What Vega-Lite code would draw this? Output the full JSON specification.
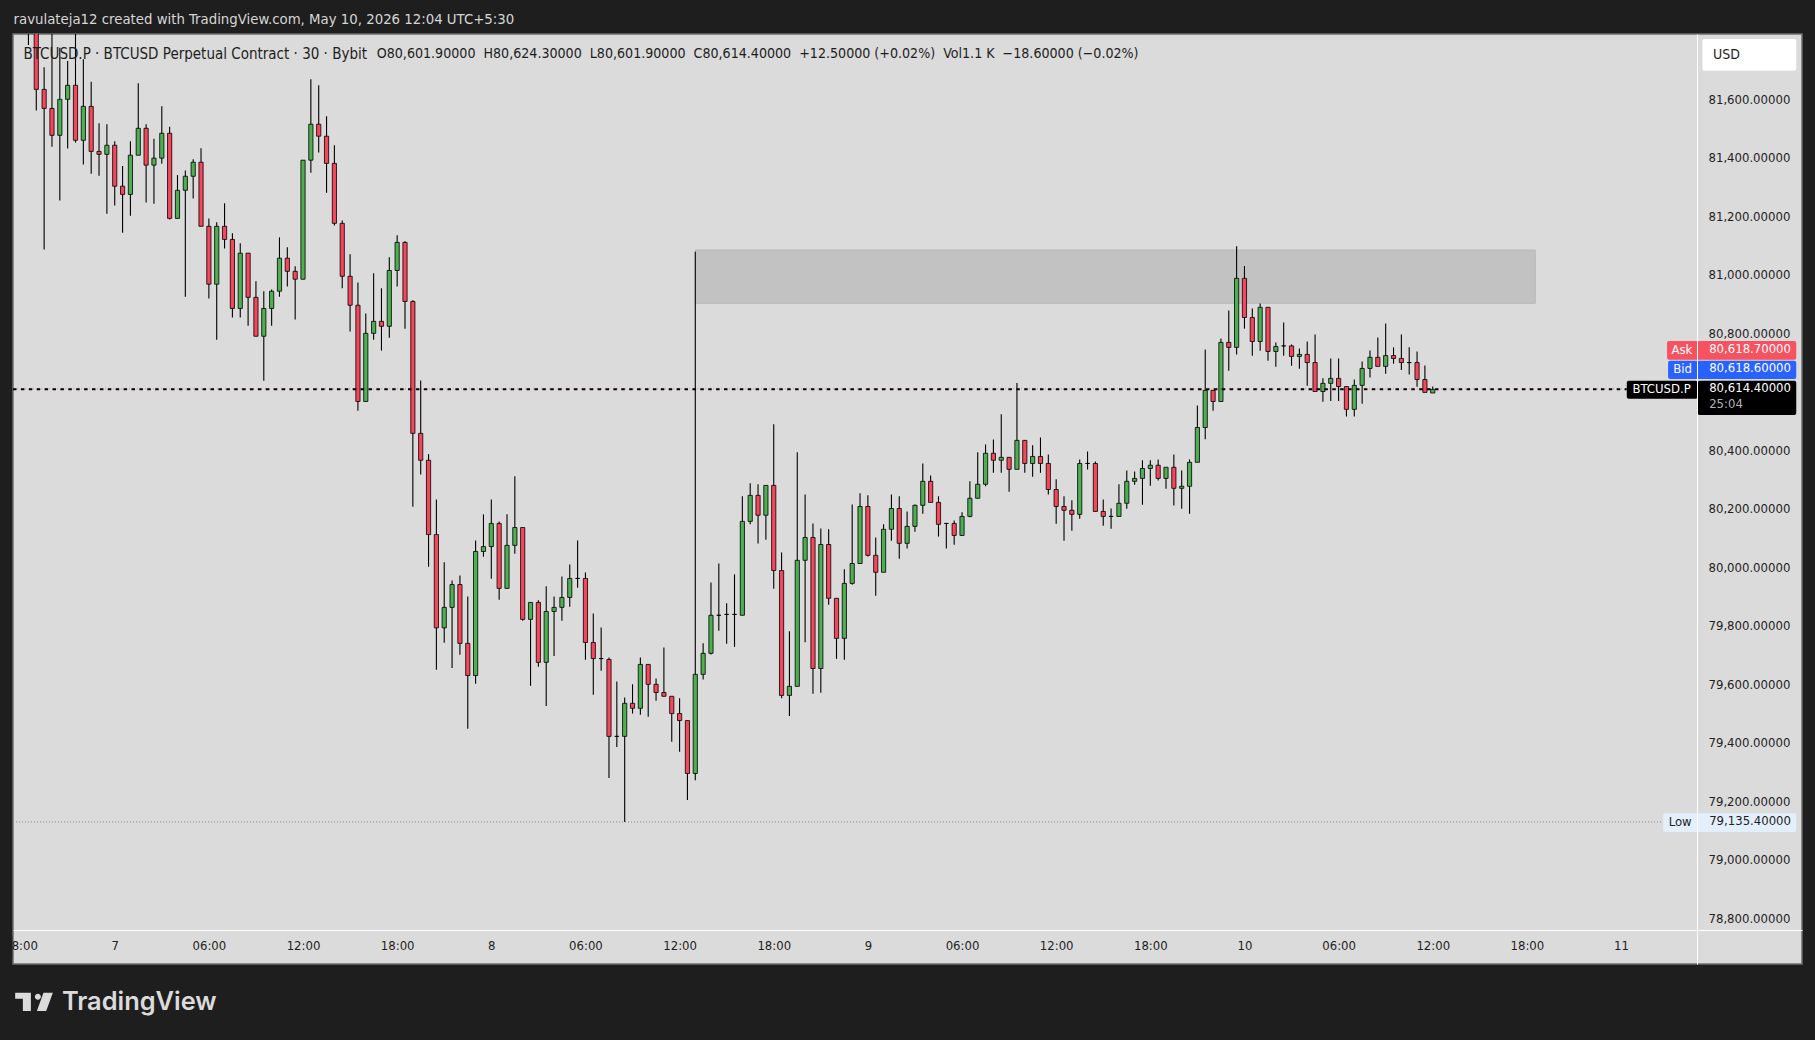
{
  "$schema": "https://vega.github.io/schema/vega-lite/v6.json",
  "width": 1789,
  "height": 930,
  "autosize": "none",
  "padding": {"left": 13, "top": 34, "right": 13, "bottom": 76},
  "background": "#1e1e1e",
  "config": {
    "view": {"fill": "#dbdbdb", "stroke": "#6e6e6e", "strokeWidth": 1.5},
    "text": {"font": "DejaVu Sans Condensed"}
  },
  "datasets": {
    "candles": [
      {"t":"2026-05-06T18:30Z","o":81880,"h":81950,"l":81792,"c":81840},
      {"t":"2026-05-06T19:00Z","o":81900,"h":81950,"l":81568,"c":81640},
      {"t":"2026-05-06T19:30Z","o":81640,"h":81716,"l":81093,"c":81575},
      {"t":"2026-05-06T20:00Z","o":81575,"h":81900,"l":81444,"c":81483},
      {"t":"2026-05-06T20:30Z","o":81483,"h":81782,"l":81260,"c":81606},
      {"t":"2026-05-06T21:00Z","o":81606,"h":81737,"l":81438,"c":81654},
      {"t":"2026-05-06T21:30Z","o":81654,"h":81900,"l":81458,"c":81466},
      {"t":"2026-05-06T22:00Z","o":81466,"h":81743,"l":81383,"c":81582},
      {"t":"2026-05-06T22:30Z","o":81582,"h":81666,"l":81352,"c":81428},
      {"t":"2026-05-06T23:00Z","o":81428,"h":81524,"l":81345,"c":81418},
      {"t":"2026-05-06T23:30Z","o":81418,"h":81521,"l":81215,"c":81449},
      {"t":"2026-05-07T00:00Z","o":81449,"h":81463,"l":81243,"c":81309},
      {"t":"2026-05-07T00:30Z","o":81309,"h":81378,"l":81150,"c":81281},
      {"t":"2026-05-07T01:00Z","o":81281,"h":81463,"l":81208,"c":81415},
      {"t":"2026-05-07T01:30Z","o":81415,"h":81661,"l":81415,"c":81507},
      {"t":"2026-05-07T02:00Z","o":81507,"h":81521,"l":81253,"c":81381},
      {"t":"2026-05-07T02:30Z","o":81381,"h":81471,"l":81249,"c":81405},
      {"t":"2026-05-07T03:00Z","o":81405,"h":81582,"l":81386,"c":81490},
      {"t":"2026-05-07T03:30Z","o":81490,"h":81512,"l":81195,"c":81199},
      {"t":"2026-05-07T04:00Z","o":81199,"h":81347,"l":81199,"c":81295},
      {"t":"2026-05-07T04:30Z","o":81295,"h":81363,"l":80931,"c":81343},
      {"t":"2026-05-07T05:00Z","o":81343,"h":81401,"l":81267,"c":81391},
      {"t":"2026-05-07T05:30Z","o":81391,"h":81439,"l":81172,"c":81172},
      {"t":"2026-05-07T06:00Z","o":81172,"h":81199,"l":80925,"c":80974},
      {"t":"2026-05-07T06:30Z","o":80974,"h":81186,"l":80784,"c":81172},
      {"t":"2026-05-07T07:00Z","o":81172,"h":81251,"l":81096,"c":81127},
      {"t":"2026-05-07T07:30Z","o":81127,"h":81148,"l":80860,"c":80891},
      {"t":"2026-05-07T08:00Z","o":80891,"h":81114,"l":80860,"c":81080},
      {"t":"2026-05-07T08:30Z","o":81080,"h":81080,"l":80832,"c":80929},
      {"t":"2026-05-07T09:00Z","o":80929,"h":80984,"l":80796,"c":80796},
      {"t":"2026-05-07T09:30Z","o":80796,"h":80950,"l":80644,"c":80891},
      {"t":"2026-05-07T10:00Z","o":80891,"h":80956,"l":80832,"c":80950},
      {"t":"2026-05-07T10:30Z","o":80950,"h":81134,"l":80931,"c":81063},
      {"t":"2026-05-07T11:00Z","o":81063,"h":81100,"l":80966,"c":81018},
      {"t":"2026-05-07T11:30Z","o":81018,"h":81035,"l":80853,"c":80991},
      {"t":"2026-05-07T12:00Z","o":80991,"h":81398,"l":80991,"c":81398},
      {"t":"2026-05-07T12:30Z","o":81398,"h":81675,"l":81355,"c":81521},
      {"t":"2026-05-07T13:00Z","o":81521,"h":81654,"l":81424,"c":81480},
      {"t":"2026-05-07T13:30Z","o":81480,"h":81548,"l":81287,"c":81387},
      {"t":"2026-05-07T14:00Z","o":81387,"h":81449,"l":81175,"c":81182},
      {"t":"2026-05-07T14:30Z","o":81182,"h":81192,"l":80960,"c":81001},
      {"t":"2026-05-07T15:00Z","o":81001,"h":81076,"l":80812,"c":80902},
      {"t":"2026-05-07T15:30Z","o":80902,"h":80980,"l":80541,"c":80573},
      {"t":"2026-05-07T16:00Z","o":80573,"h":80874,"l":80573,"c":80806},
      {"t":"2026-05-07T16:30Z","o":80806,"h":81011,"l":80784,"c":80847},
      {"t":"2026-05-07T17:00Z","o":80847,"h":80960,"l":80747,"c":80830},
      {"t":"2026-05-07T17:30Z","o":80830,"h":81066,"l":80791,"c":81021},
      {"t":"2026-05-07T18:00Z","o":81021,"h":81141,"l":80966,"c":81117},
      {"t":"2026-05-07T18:30Z","o":81117,"h":81121,"l":80822,"c":80915},
      {"t":"2026-05-07T19:00Z","o":80915,"h":80919,"l":80213,"c":80464},
      {"t":"2026-05-07T19:30Z","o":80464,"h":80645,"l":80323,"c":80372},
      {"t":"2026-05-07T20:00Z","o":80372,"h":80393,"l":80008,"c":80118},
      {"t":"2026-05-07T20:30Z","o":80118,"h":80238,"l":79656,"c":79799},
      {"t":"2026-05-07T21:00Z","o":79799,"h":80023,"l":79748,"c":79869},
      {"t":"2026-05-07T21:30Z","o":79869,"h":79961,"l":79662,"c":79947},
      {"t":"2026-05-07T22:00Z","o":79947,"h":79978,"l":79707,"c":79746},
      {"t":"2026-05-07T22:30Z","o":79746,"h":79906,"l":79454,"c":79636},
      {"t":"2026-05-07T23:00Z","o":79636,"h":80098,"l":79608,"c":80060},
      {"t":"2026-05-07T23:30Z","o":80060,"h":80187,"l":80042,"c":80077},
      {"t":"2026-05-08T00:00Z","o":80077,"h":80238,"l":79967,"c":80156},
      {"t":"2026-05-08T00:30Z","o":80156,"h":80163,"l":79895,"c":79934},
      {"t":"2026-05-08T01:00Z","o":79934,"h":80187,"l":79934,"c":80081},
      {"t":"2026-05-08T01:30Z","o":80081,"h":80317,"l":80052,"c":80142},
      {"t":"2026-05-08T02:00Z","o":80142,"h":80142,"l":79823,"c":79828},
      {"t":"2026-05-08T02:30Z","o":79828,"h":79886,"l":79601,"c":79886},
      {"t":"2026-05-08T03:00Z","o":79886,"h":79893,"l":79666,"c":79681},
      {"t":"2026-05-08T03:30Z","o":79681,"h":79941,"l":79532,"c":79855},
      {"t":"2026-05-08T04:00Z","o":79855,"h":79906,"l":79703,"c":79869},
      {"t":"2026-05-08T04:30Z","o":79869,"h":79975,"l":79823,"c":79903},
      {"t":"2026-05-08T05:00Z","o":79903,"h":80016,"l":79871,"c":79968},
      {"t":"2026-05-08T05:30Z","o":79968,"h":80098,"l":79936,"c":79968},
      {"t":"2026-05-08T06:00Z","o":79968,"h":79988,"l":79690,"c":79749},
      {"t":"2026-05-08T06:30Z","o":79749,"h":79848,"l":79570,"c":79694},
      {"t":"2026-05-08T07:00Z","o":79694,"h":79800,"l":79652,"c":79694},
      {"t":"2026-05-08T07:30Z","o":79691,"h":79698,"l":79286,"c":79428},
      {"t":"2026-05-08T08:00Z","o":79428,"h":79616,"l":79392,"c":79428},
      {"t":"2026-05-08T08:30Z","o":79428,"h":79561,"l":79135.4,"c":79541},
      {"t":"2026-05-08T09:00Z","o":79541,"h":79606,"l":79506,"c":79524},
      {"t":"2026-05-08T09:30Z","o":79524,"h":79698,"l":79502,"c":79674},
      {"t":"2026-05-08T10:00Z","o":79674,"h":79674,"l":79495,"c":79606},
      {"t":"2026-05-08T10:30Z","o":79606,"h":79626,"l":79550,"c":79578},
      {"t":"2026-05-08T11:00Z","o":79578,"h":79732,"l":79565,"c":79565},
      {"t":"2026-05-08T11:30Z","o":79565,"h":79565,"l":79410,"c":79506},
      {"t":"2026-05-08T12:00Z","o":79506,"h":79558,"l":79375,"c":79482},
      {"t":"2026-05-08T12:30Z","o":79482,"h":79482,"l":79210,"c":79301},
      {"t":"2026-05-08T13:00Z","o":79301,"h":81085,"l":79278,"c":79640},
      {"t":"2026-05-08T13:30Z","o":79640,"h":79746,"l":79622,"c":79712},
      {"t":"2026-05-08T14:00Z","o":79712,"h":79954,"l":79708,"c":79842},
      {"t":"2026-05-08T14:30Z","o":79842,"h":80019,"l":79789,"c":79842},
      {"t":"2026-05-08T15:00Z","o":79845,"h":79883,"l":79745,"c":79845},
      {"t":"2026-05-08T15:30Z","o":79845,"h":79982,"l":79734,"c":79845},
      {"t":"2026-05-08T16:00Z","o":79842,"h":80249,"l":79842,"c":80163},
      {"t":"2026-05-08T16:30Z","o":80163,"h":80293,"l":80153,"c":80252},
      {"t":"2026-05-08T17:00Z","o":80252,"h":80290,"l":80087,"c":80184},
      {"t":"2026-05-08T17:30Z","o":80184,"h":80286,"l":80100,"c":80286},
      {"t":"2026-05-08T18:00Z","o":80286,"h":80495,"l":79933,"c":79995},
      {"t":"2026-05-08T18:30Z","o":79995,"h":80057,"l":79558,"c":79568},
      {"t":"2026-05-08T19:00Z","o":79568,"h":79787,"l":79498,"c":79599},
      {"t":"2026-05-08T19:30Z","o":79599,"h":80399,"l":79599,"c":80030},
      {"t":"2026-05-08T20:00Z","o":80030,"h":80255,"l":79750,"c":80108},
      {"t":"2026-05-08T20:30Z","o":80108,"h":80156,"l":79574,"c":79660},
      {"t":"2026-05-08T21:00Z","o":79660,"h":80139,"l":79577,"c":80084},
      {"t":"2026-05-08T21:30Z","o":80084,"h":80136,"l":79878,"c":79900},
      {"t":"2026-05-08T22:00Z","o":79900,"h":79900,"l":79693,"c":79763},
      {"t":"2026-05-08T22:30Z","o":79763,"h":79999,"l":79690,"c":79951},
      {"t":"2026-05-08T23:00Z","o":79951,"h":80221,"l":79946,"c":80019},
      {"t":"2026-05-08T23:30Z","o":80019,"h":80259,"l":80019,"c":80214},
      {"t":"2026-05-09T00:00Z","o":80214,"h":80252,"l":80043,"c":80047},
      {"t":"2026-05-09T00:30Z","o":80047,"h":80108,"l":79909,"c":79989},
      {"t":"2026-05-09T01:00Z","o":79989,"h":80153,"l":79989,"c":80136},
      {"t":"2026-05-09T01:30Z","o":80136,"h":80255,"l":80097,"c":80207},
      {"t":"2026-05-09T02:00Z","o":80207,"h":80249,"l":80035,"c":80088},
      {"t":"2026-05-09T02:30Z","o":80088,"h":80197,"l":80070,"c":80146},
      {"t":"2026-05-09T03:00Z","o":80146,"h":80221,"l":80128,"c":80218},
      {"t":"2026-05-09T03:30Z","o":80218,"h":80361,"l":80189,"c":80300},
      {"t":"2026-05-09T04:00Z","o":80300,"h":80320,"l":80228,"c":80228},
      {"t":"2026-05-09T04:30Z","o":80228,"h":80249,"l":80111,"c":80153},
      {"t":"2026-05-09T05:00Z","o":80156,"h":80156,"l":80070,"c":80156},
      {"t":"2026-05-09T05:30Z","o":80156,"h":80166,"l":80083,"c":80115},
      {"t":"2026-05-09T06:00Z","o":80115,"h":80194,"l":80115,"c":80180},
      {"t":"2026-05-09T06:30Z","o":80180,"h":80300,"l":80177,"c":80242},
      {"t":"2026-05-09T07:00Z","o":80242,"h":80399,"l":80242,"c":80290},
      {"t":"2026-05-09T07:30Z","o":80290,"h":80426,"l":80283,"c":80396},
      {"t":"2026-05-09T08:00Z","o":80396,"h":80443,"l":80329,"c":80372},
      {"t":"2026-05-09T08:30Z","o":80372,"h":80529,"l":80329,"c":80382},
      {"t":"2026-05-09T09:00Z","o":80382,"h":80382,"l":80264,"c":80341},
      {"t":"2026-05-09T09:30Z","o":80341,"h":80636,"l":80341,"c":80440},
      {"t":"2026-05-09T10:00Z","o":80440,"h":80440,"l":80329,"c":80361},
      {"t":"2026-05-09T10:30Z","o":80361,"h":80423,"l":80316,"c":80385},
      {"t":"2026-05-09T11:00Z","o":80385,"h":80450,"l":80329,"c":80361},
      {"t":"2026-05-09T11:30Z","o":80361,"h":80392,"l":80255,"c":80272},
      {"t":"2026-05-09T12:00Z","o":80272,"h":80307,"l":80155,"c":80214},
      {"t":"2026-05-09T12:30Z","o":80214,"h":80249,"l":80097,"c":80201},
      {"t":"2026-05-09T13:00Z","o":80201,"h":80235,"l":80131,"c":80187},
      {"t":"2026-05-09T13:30Z","o":80187,"h":80375,"l":80172,"c":80361},
      {"t":"2026-05-09T14:00Z","o":80361,"h":80402,"l":80340,"c":80361},
      {"t":"2026-05-09T14:30Z","o":80361,"h":80368,"l":80197,"c":80197},
      {"t":"2026-05-09T15:00Z","o":80197,"h":80238,"l":80148,"c":80180},
      {"t":"2026-05-09T15:30Z","o":80180,"h":80207,"l":80138,"c":80180},
      {"t":"2026-05-09T16:00Z","o":80180,"h":80290,"l":80180,"c":80225},
      {"t":"2026-05-09T16:30Z","o":80225,"h":80337,"l":80206,"c":80300},
      {"t":"2026-05-09T17:00Z","o":80300,"h":80334,"l":80288,"c":80310},
      {"t":"2026-05-09T17:30Z","o":80310,"h":80372,"l":80220,"c":80344},
      {"t":"2026-05-09T18:00Z","o":80344,"h":80372,"l":80285,"c":80355},
      {"t":"2026-05-09T18:30Z","o":80355,"h":80375,"l":80303,"c":80310},
      {"t":"2026-05-09T19:00Z","o":80310,"h":80348,"l":80275,"c":80348},
      {"t":"2026-05-09T19:30Z","o":80348,"h":80392,"l":80217,"c":80276},
      {"t":"2026-05-09T20:00Z","o":80276,"h":80337,"l":80206,"c":80283},
      {"t":"2026-05-09T20:30Z","o":80283,"h":80375,"l":80189,"c":80365},
      {"t":"2026-05-09T21:00Z","o":80365,"h":80559,"l":80365,"c":80484},
      {"t":"2026-05-09T21:30Z","o":80484,"h":80751,"l":80444,"c":80611},
      {"t":"2026-05-09T22:00Z","o":80611,"h":80611,"l":80541,"c":80573},
      {"t":"2026-05-09T22:30Z","o":80573,"h":80788,"l":80573,"c":80775},
      {"t":"2026-05-09T23:00Z","o":80775,"h":80884,"l":80678,"c":80758},
      {"t":"2026-05-09T23:30Z","o":80758,"h":81104,"l":80734,"c":80994},
      {"t":"2026-05-10T00:00Z","o":80994,"h":81036,"l":80822,"c":80860},
      {"t":"2026-05-10T00:30Z","o":80860,"h":80891,"l":80729,"c":80778},
      {"t":"2026-05-10T01:00Z","o":80778,"h":80908,"l":80746,"c":80895},
      {"t":"2026-05-10T01:30Z","o":80895,"h":80895,"l":80712,"c":80744},
      {"t":"2026-05-10T02:00Z","o":80744,"h":80775,"l":80692,"c":80761},
      {"t":"2026-05-10T02:30Z","o":80763,"h":80843,"l":80729,"c":80763},
      {"t":"2026-05-10T03:00Z","o":80763,"h":80768,"l":80695,"c":80727},
      {"t":"2026-05-10T03:30Z","o":80727,"h":80754,"l":80685,"c":80734},
      {"t":"2026-05-10T04:00Z","o":80734,"h":80778,"l":80627,"c":80706},
      {"t":"2026-05-10T04:30Z","o":80706,"h":80802,"l":80607,"c":80607},
      {"t":"2026-05-10T05:00Z","o":80607,"h":80652,"l":80572,"c":80635},
      {"t":"2026-05-10T05:30Z","o":80635,"h":80720,"l":80575,"c":80652},
      {"t":"2026-05-10T06:00Z","o":80652,"h":80720,"l":80575,"c":80624},
      {"t":"2026-05-10T06:30Z","o":80624,"h":80624,"l":80522,"c":80546},
      {"t":"2026-05-10T07:00Z","o":80546,"h":80648,"l":80522,"c":80628},
      {"t":"2026-05-10T07:30Z","o":80628,"h":80710,"l":80565,"c":80686},
      {"t":"2026-05-10T08:00Z","o":80686,"h":80747,"l":80655,"c":80724},
      {"t":"2026-05-10T08:30Z","o":80724,"h":80792,"l":80693,"c":80693},
      {"t":"2026-05-10T09:00Z","o":80693,"h":80840,"l":80668,"c":80730},
      {"t":"2026-05-10T09:30Z","o":80730,"h":80758,"l":80702,"c":80720},
      {"t":"2026-05-10T10:00Z","o":80720,"h":80802,"l":80681,"c":80706},
      {"t":"2026-05-10T10:30Z","o":80706,"h":80758,"l":80665,"c":80706},
      {"t":"2026-05-10T11:00Z","o":80706,"h":80744,"l":80623,"c":80648},
      {"t":"2026-05-10T11:30Z","o":80648,"h":80696,"l":80604,"c":80604},
      {"t":"2026-05-10T12:00Z","o":80601.9,"h":80624.3,"l":80601.9,"c":80614.4}
    ],
    "tags": [
      {"tag":"mask","t":"2026-05-06T16:41Z","t1":"2026-05-06T17:28Z","p":78749,"p1":78663},
      {"tag":"ask","t":"2026-05-11T02:56Z","t1":"2026-05-11T11:10Z","p":80779.7,"p1":80715.8},
      {"tag":"bid","t":"2026-05-11T03:00Z","t1":"2026-05-11T11:10Z","p":80712.4,"p1":80649.8},
      {"tag":"last","t":"2026-05-11T00:22Z","t1":"2026-05-11T04:53Z","p":80644,"p1":80582.4},
      {"tag":"last","t":"2026-05-11T04:53Z","t1":"2026-05-11T11:10Z","p":80644,"p1":80526.7},
      {"tag":"low","t":"2026-05-11T02:41Z","t1":"2026-05-11T11:10Z","p":79164.9,"p1":79101},
      {"tag":"usd","t":"2026-05-11T05:11Z","t1":"2026-05-11T11:10Z","p":81812.3,"p1":81703.9}
    ]
  },
  "encoding": {
    "x": {
      "field": "t",
      "type": "temporal",
      "title": null,
      "scale": {"type": "utc", "domain": ["2026-05-06T17:31:00Z", "2026-05-11T11:32:00Z"], "nice": false, "padding": 0},
      "axis": {
        "orient": "bottom",
        "offset": -34,
        "grid": false,
        "ticks": false,
        "domainColor": "#ffffff",
        "domainWidth": 1,
        "labelColor": "#1e1e1e",
        "labelFont": "DejaVu Sans Condensed",
        "labelFontSize": 13,
        "labelPadding": 9,
        "labelOverlap": false,
        "labelFlush": false,
        "labelBound": false,
        "values": [
          {"year":2026,"month":5,"date":6,"hours":18,"utc":true},
          {"year":2026,"month":5,"date":7,"hours":0,"utc":true},
          {"year":2026,"month":5,"date":7,"hours":6,"utc":true},
          {"year":2026,"month":5,"date":7,"hours":12,"utc":true},
          {"year":2026,"month":5,"date":7,"hours":18,"utc":true},
          {"year":2026,"month":5,"date":8,"hours":0,"utc":true},
          {"year":2026,"month":5,"date":8,"hours":6,"utc":true},
          {"year":2026,"month":5,"date":8,"hours":12,"utc":true},
          {"year":2026,"month":5,"date":8,"hours":18,"utc":true},
          {"year":2026,"month":5,"date":9,"hours":0,"utc":true},
          {"year":2026,"month":5,"date":9,"hours":6,"utc":true},
          {"year":2026,"month":5,"date":9,"hours":12,"utc":true},
          {"year":2026,"month":5,"date":9,"hours":18,"utc":true},
          {"year":2026,"month":5,"date":10,"hours":0,"utc":true},
          {"year":2026,"month":5,"date":10,"hours":6,"utc":true},
          {"year":2026,"month":5,"date":10,"hours":12,"utc":true},
          {"year":2026,"month":5,"date":10,"hours":18,"utc":true},
          {"year":2026,"month":5,"date":11,"hours":0,"utc":true}
        ],
        "labelExpr": "utchours(datum.value) == 0 ? utcFormat(datum.value, '%-d') : utcFormat(datum.value, '%H:%M')"
      }
    },
    "y": {
      "field": "p",
      "type": "quantitative",
      "title": null,
      "scale": {"domain": [78649.7, 81829.4], "nice": false, "zero": false},
      "axis": {
        "orient": "right",
        "offset": -105,
        "zindex": 1,
        "grid": false,
        "ticks": false,
        "domainColor": "#ffffff",
        "domainWidth": 1,
        "labelColor": "#1e1e1e",
        "labelFont": "DejaVu Sans Condensed",
        "labelFontSize": 13,
        "labelPadding": 11,
        "labelOffset": -2,
        "labelOverlap": false,
        "labelFlush": false,
        "labelBound": false,
        "format": ",.5f",
        "values": [78800, 79000, 79200, 79400, 79600, 79800, 80000, 80200, 80400, 80800, 81000, 81200, 81400, 81600]
      }
    }
  },
  "layer": [
    {
      "data": {"values": [{"t":"2026-05-08T13:00:00Z","t1":"2026-05-10T18:32:00Z","p":81090.8,"p1":80908.6}], "format": {"parse": {"t":"date","t1":"date"}}},
      "mark": {"type": "rect", "fill": "#c2c2c2", "stroke": "#b8b8b8", "strokeWidth": 1},
      "encoding": {"x2": {"field": "t1"}, "y2": {"field": "p1"}}
    },
    {
      "data": {"values": [{"t":"2026-05-06T17:31:00Z","t1":"2026-05-11T02:41:00Z","p":79135.4}], "format": {"parse": {"t":"date","t1":"date"}}},
      "mark": {"type": "rule", "stroke": "#8a8a8a", "strokeWidth": 1, "strokeDash": [1, 2]},
      "encoding": {"x2": {"field": "t1"}}
    },
    {
      "data": {"name": "candles", "format": {"parse": {"t":"date"}}},
      "mark": {"type": "rule", "stroke": "#000000", "strokeWidth": 1.1, "clip": true},
      "encoding": {
        "y": {"field": "h", "type": "quantitative", "title": null, "scale": {"domain": [78649.7, 81829.4], "nice": false, "zero": false}},
        "y2": {"field": "l"}
      }
    },
    {
      "data": {"name": "candles", "format": {"parse": {"t":"date"}}},
      "mark": {"type": "bar", "size": 4.2, "stroke": "#000000", "strokeWidth": 0.8, "clip": true},
      "encoding": {
        "y": {"field": "o", "type": "quantitative", "title": null, "scale": {"domain": [78649.7, 81829.4], "nice": false, "zero": false}},
        "y2": {"field": "c"},
        "color": {"condition": {"test": "datum.c >= datum.o", "value": "#4caf50"}, "value": "#f7465b"}
      }
    },
    {
      "data": {"values": [{"t":"2026-05-06T17:31:00Z","t1":"2026-05-11T00:22:00Z","p":80616.5}], "format": {"parse": {"t":"date","t1":"date"}}},
      "mark": {"type": "rule", "stroke": "#f23645", "strokeWidth": 1, "strokeDash": [1, 3], "opacity": 0.5},
      "encoding": {"x2": {"field": "t1"}}
    },
    {
      "data": {"values": [{"t":"2026-05-06T17:31:00Z","t1":"2026-05-11T00:22:00Z","p":80615}], "format": {"parse": {"t":"date","t1":"date"}}},
      "mark": {"type": "rule", "stroke": "#000000", "strokeWidth": 2, "strokeDash": [3.5, 4.4]},
      "encoding": {"x2": {"field": "t1"}}
    },
    {
      "data": {"name": "tags", "format": {"parse": {"t":"date","t1":"date"}}},
      "mark": {"type": "rect", "cornerRadius": 2},
      "encoding": {
        "x2": {"field": "t1"},
        "y2": {"field": "p1"},
        "color": {
          "field": "tag",
          "type": "nominal",
          "legend": null,
          "scale": {
            "domain": ["mask", "ask", "bid", "last", "low", "usd"],
            "range": ["#1e1e1e", "#f7525f", "#2962ff", "#000000", "#e3effd", "#ffffff"]
          }
        }
      }
    },
    {
      "data": {"values": [{"t":"2026-05-06T18:11:00Z","p":81761,"label":"BTCUSD.P · BTCUSD Perpetual Contract · 30 · Bybit"}], "format": {"parse": {"t":"date"}}},
      "mark": {"type": "text", "align": "left", "baseline": "middle", "fontSize": 15, "fill": "#1e1e1e"},
      "encoding": {"text": {"field": "label"}}
    },
    {
      "data": {"values": [{"t":"2026-05-07T16:42:00Z","p":81761,"label":"O80,601.90000\u00a0\u00a0H80,624.30000\u00a0\u00a0L80,601.90000\u00a0\u00a0C80,614.40000\u00a0\u00a0+12.50000 (+0.02%)\u00a0\u00a0Vol1.1 K\u00a0\u00a0−18.60000 (−0.02%)"}], "format": {"parse": {"t":"date"}}},
      "mark": {"type": "text", "align": "left", "baseline": "middle", "fontSize": 14.1, "fill": "#1e1e1e"},
      "encoding": {"text": {"field": "label"}}
    },
    {
      "data": {"values": [{"t":"2026-05-06T17:33:00Z","p":81877,"label":"ravulateja12 created with TradingView.com, May 10, 2026 12:04 UTC+5:30"}], "format": {"parse": {"t":"date"}}},
      "mark": {"type": "text", "align": "left", "baseline": "middle", "fontSize": 14.8, "fill": "#d6d6d6"},
      "encoding": {"text": {"field": "label"}}
    },
    {
      "data": {"values": [
        {"t":"2026-05-11T03:53:00Z","p":80749,"label":"Ask"},
        {"t":"2026-05-11T03:55:00Z","p":80684,"label":"Bid"},
        {"t":"2026-05-11T02:35:00Z","p":80615.6,"label":"BTCUSD.P"}
      ], "format": {"parse": {"t":"date"}}},
      "mark": {"type": "text", "align": "center", "baseline": "middle", "fontSize": 13, "fill": "#ffffff"},
      "encoding": {"text": {"field": "label"}}
    },
    {
      "data": {"values": [
        {"t":"2026-05-11T05:37:00Z","p":80752.4,"label":"80,618.70000"},
        {"t":"2026-05-11T05:37:00Z","p":80687,"label":"80,618.60000"},
        {"t":"2026-05-11T05:37:00Z","p":80618,"label":"80,614.40000"}
      ], "format": {"parse": {"t":"date"}}},
      "mark": {"type": "text", "align": "left", "baseline": "middle", "fontSize": 13, "fill": "#ffffff"},
      "encoding": {"text": {"field": "label"}}
    },
    {
      "data": {"values": [{"t":"2026-05-11T05:37:00Z","p":80563,"label":"25:04"}], "format": {"parse": {"t":"date"}}},
      "mark": {"type": "text", "align": "left", "baseline": "middle", "fontSize": 13, "fill": "#b2b2b2"},
      "encoding": {"text": {"field": "label"}}
    },
    {
      "data": {"values": [{"t":"2026-05-11T05:37:00Z","p":79138,"label":"79,135.40000"}], "format": {"parse": {"t":"date"}}},
      "mark": {"type": "text", "align": "left", "baseline": "middle", "fontSize": 13, "fill": "#1e1e1e"},
      "encoding": {"text": {"field": "label"}}
    },
    {
      "data": {"values": [{"t":"2026-05-11T05:52:00Z","p":81758,"label":"USD"}], "format": {"parse": {"t":"date"}}},
      "mark": {"type": "text", "align": "left", "baseline": "middle", "fontSize": 14, "fill": "#1e1e1e"},
      "encoding": {"text": {"field": "label"}}
    },
    {
      "data": {"values": [{"t":"2026-05-11T03:46:00Z","p":79135,"label":"Low"}], "format": {"parse": {"t":"date"}}},
      "mark": {"type": "text", "align": "center", "baseline": "middle", "fontSize": 13, "fill": "#1e1e1e"},
      "encoding": {"text": {"field": "label"}}
    },
    {
      "data": {"values": [{"t":"2026-05-06T20:38:00Z","p":78520,"label":"TradingView"}], "format": {"parse": {"t":"date"}}},
      "mark": {"type": "text", "align": "left", "baseline": "middle", "font": "Inter", "fontWeight": 600, "fontSize": 25.4, "fill": "#dbdbdb"},
      "encoding": {"text": {"field": "label"}}
    },
    {
      "data": {"values": [{"t":"2026-05-06T18:52:00Z","p":78520}], "format": {"parse": {"t":"date"}}},
      "mark": {
        "type": "point",
        "filled": true,
        "fill": "#dbdbdb",
        "opacity": 1,
        "size": 1444,
        "shape": "M-1,-.489 L-.174,-.489 L-.174,.474 L-.595,.474 L-.595,-.174 L-1,-.174 Z M.489,-.489 L.984,-.489 L.632,.474 L.142,.474 Z M.037,-.279 A.158,.158 0 1,1 .353,-.279 A.158,.158 0 1,1 .037,-.279 Z"
      }
    }
  ]
}
